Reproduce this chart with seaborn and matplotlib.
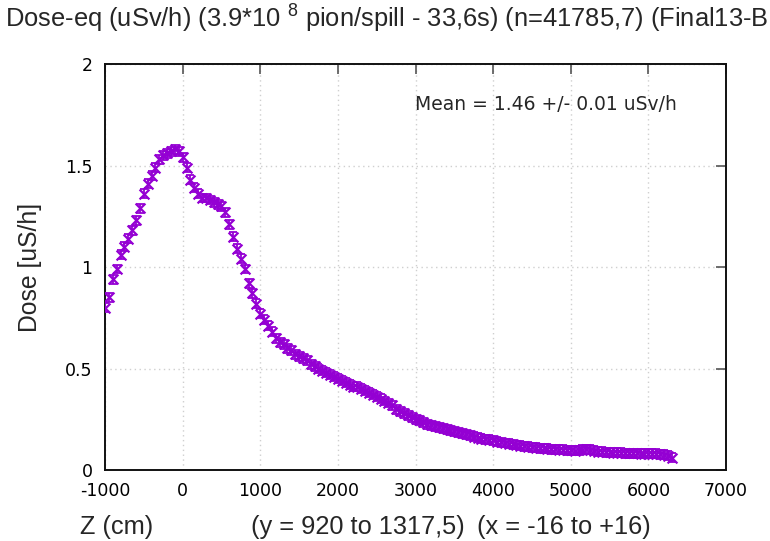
import numpy as np
import pandas as pd
import seaborn as sns
import matplotlib
matplotlib.use("Agg")
import matplotlib.pyplot as plt

# Dose profile along Z (50 cm steps)
z_start, z_stop, z_step = -1000, 6300, 50
dose = [
    0.80, 0.85, 0.94, 0.99, 1.06, 1.10, 1.14, 1.18, 1.23, 1.29,
    1.36, 1.41, 1.45, 1.49, 1.53, 1.55, 1.56, 1.57, 1.58, 1.57,
    1.54, 1.49, 1.43, 1.39, 1.36, 1.34, 1.34, 1.33, 1.32, 1.31,
    1.30, 1.27, 1.21, 1.15, 1.09, 1.04, 0.99, 0.92, 0.87, 0.82,
    0.77, 0.74, 0.71, 0.68, 0.65, 0.63, 0.62, 0.60, 0.59, 0.57,
    0.56, 0.55, 0.54, 0.52, 0.51, 0.50, 0.49, 0.48, 0.47, 0.46,
    0.45, 0.44, 0.43, 0.42, 0.41, 0.41, 0.40, 0.39, 0.38, 0.37,
    0.36, 0.35, 0.34, 0.33, 0.32, 0.30, 0.29, 0.28, 0.27, 0.26,
    0.25, 0.245, 0.235, 0.225, 0.22, 0.215, 0.21, 0.205, 0.20, 0.195,
    0.19, 0.185, 0.18, 0.175, 0.17, 0.165, 0.16, 0.155, 0.152, 0.15,
    0.147, 0.14, 0.137, 0.133, 0.13, 0.127, 0.123, 0.12, 0.118, 0.115,
    0.113, 0.11, 0.108, 0.107, 0.105, 0.103, 0.102, 0.10, 0.099, 0.098,
    0.097, 0.096, 0.097, 0.099, 0.101, 0.099, 0.094, 0.091, 0.090, 0.088,
    0.087, 0.086, 0.085, 0.084, 0.083, 0.083, 0.082, 0.082, 0.081, 0.081,
    0.080, 0.080, 0.079, 0.078, 0.075, 0.070, 0.060,
]
dose_err = 0.022

x_ticks = [-1000, 0, 1000, 2000, 3000, 4000, 5000, 6000, 7000]
y_ticks = [0, 0.5, 1, 1.5, 2]
y_ticklabels = ["0", "0.5", "1", "1.5", "2"]

title = "Dose-eq (uSv/h) (3.9*10 $^{8}$ pion/spill - 33,6s) (n=41785,7) (Final13-B"
x_label_parts = ["Z (cm)", "(y = 920 to 1317,5)", "(x = -16 to +16)"]
y_label = "Dose [uS/h]"
mean_text = "Mean = 1.46 +/- 0.01 uSv/h"

z = np.arange(z_start, z_stop + 1, z_step)
df = pd.DataFrame({"z": z, "dose": dose})

sns.set_style("white")
plt.rcParams["font.family"] = ["DejaVu Sans"]
plt.rcParams["mathtext.default"] = "regular"
plt.rcParams["axes.unicode_minus"] = False
color = "#9400d3"

fig = plt.figure(figsize=(7.7, 5.41), dpi=100)
ax = fig.add_axes([105 / 770, 1 - 470 / 541, 621 / 770, 406 / 541])

ax.errorbar(df["z"], df["dose"], yerr=dose_err, fmt="none", ecolor=color,
            elinewidth=1.3, capsize=3, capthick=1.3, zorder=3)
sns.scatterplot(data=df, x="z", y="dose", marker="x", s=50, color=color,
                linewidth=1.6, ax=ax, zorder=4, legend=False)

ax.set_xlim(-1000, 7000)
ax.set_ylim(0, 2)
ax.set_xticks(x_ticks)
ax.set_yticks(y_ticks)
ax.set_yticklabels(y_ticklabels)
ax.set_xlabel("")
ax.set_ylabel("")
ax.grid(True, linestyle=(0, (1, 2.5)), color="#cfcfcf", linewidth=1.0)
ax.set_axisbelow(True)
ax.tick_params(direction="in", length=7, width=1.2, color="#555555",
               labelsize=12.5, labelcolor="black", top=True, right=True)
ax.tick_params(axis="x", pad=9)
ax.tick_params(axis="y", pad=9)
for s in ax.spines.values():
    s.set_color("#111111")
    s.set_linewidth(1.4)

ax.text(415 / 770, 1 - 105 / 541, mean_text, transform=fig.transFigure,
        fontsize=13.5, ha="left", va="center")

fig.text(5 / 770, 1 - 19 / 541, title, fontsize=18.4, ha="left", va="center",
         family="Liberation Sans")
for xpos, part in zip([80, 251, 477], x_label_parts):
    fig.text(xpos / 770, 1 - 527 / 541, part, fontsize=18.3, ha="left",
             va="center", family="Liberation Sans")
fig.text(30 / 770, 1 - 267 / 541, y_label, fontsize=17.8, ha="center",
         va="center", rotation=90, family="Liberation Sans")

fig.savefig("out.png", dpi=100)
